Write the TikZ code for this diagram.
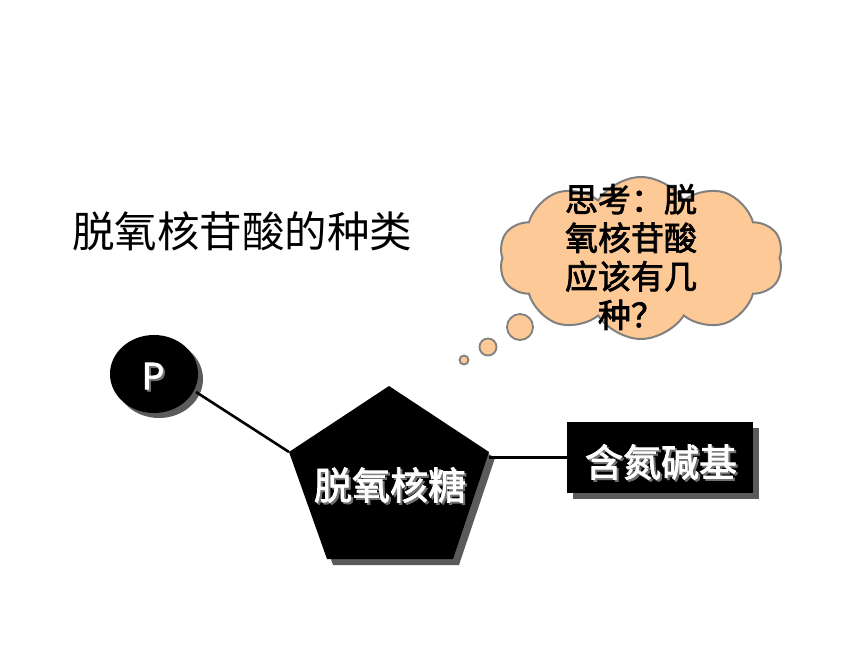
\documentclass[tikz,border=0pt]{standalone}
\usepackage{fontspec}
\newfontfamily\cjk{Noto Sans CJK SC}
\newfontfamily\cjkfb[FakeBold=2.2]{Noto Sans CJK SC}
\usetikzlibrary{shapes.geometric,shapes.symbols,shadows}
\definecolor{cloudc}{HTML}{FCC997}
\definecolor{cloudline}{HTML}{808080}
\definecolor{shadowc}{HTML}{707070}
\newcommand{\shtext}[1]{\makebox[0pt][l]{\hspace{2pt}\raisebox{-2pt}{\color{shadowc}#1}}#1}
\tikzset{
  blackshape/.style={fill=black, draw=none,
    drop shadow={shadow xshift=6pt, shadow yshift=-6pt, fill=shadowc!115, opacity=1}},
  conn/.style={line width=2.6pt, black},
  wlabel/.style={text=white, font=\cjkfb\fontsize{38}{40}\selectfont, inner sep=0pt},
  bubble/.style={circle, fill=cloudc, draw=cloudline, line width=1.8pt, inner sep=0pt},
}
\begin{document}
\begin{tikzpicture}[x=1pt,y=-1pt]
\useasboundingbox (0,0) rectangle (860,645);
% title
\node[anchor=west, inner sep=0pt, font=\cjk\fontsize{42.5}{44}\selectfont] (title) at (72,231) {脱氧核苷酸的种类};
% cloud
\node[cloud, cloud puffs=10, cloud puff arc=115, aspect=1.75, minimum width=284pt, minimum height=162pt,
      fill=cloudc, draw=cloudline, line width=2pt] (cloud) at (641,258) {};
\node[bubble, minimum size=26pt] (b1) at (520,327) {};
\node[bubble, minimum size=17pt] (b2) at (488,347) {};
\node[bubble, minimum size=9pt] (b3) at (464,360) {};
\node[align=center, inner sep=0pt, font=\cjkfb\fontsize{33}{38.5}\selectfont] (think) at (631,257)
  {思考：脱\\氧核苷酸\\应该有几\\种？};
% P circle
\node[ellipse, minimum width=88pt, minimum height=78pt, inner sep=0pt,
      fill=black, drop shadow={shadow xshift=5pt, shadow yshift=-5pt, fill=shadowc!115, opacity=1}] (P) at (154,374) {};
\node[text=white, font=\cjkfb\fontsize{36}{38}\selectfont, inner sep=0pt] (Pt) at (153,377) {\shtext{P}};
% pentagon
\coordinate (pt) at (389,386);
\coordinate (pl) at (289,452);
\coordinate (pr) at (489,452);
\coordinate (pbr) at (453,559);
\coordinate (pbl) at (327,559);
\path[blackshape] (pt) -- (pr) -- (pbr) -- (pbl) -- (pl) -- cycle;
\node[wlabel] (sugar) at (390,486) {\shtext{脱氧核糖}};
% base rectangle
\node[blackshape, minimum width=186pt, minimum height=71pt, inner sep=0pt] (base) at (660,457.5) {};
\node[wlabel] (basel) at (661,463) {\shtext{含氮碱基}};
% connectors
\coordinate (Pc) at (196,392);
\draw[conn] (Pc) -- (pl);
\draw[conn] (pr |- base.west) -- (base.west);
\end{tikzpicture}
\end{document}
